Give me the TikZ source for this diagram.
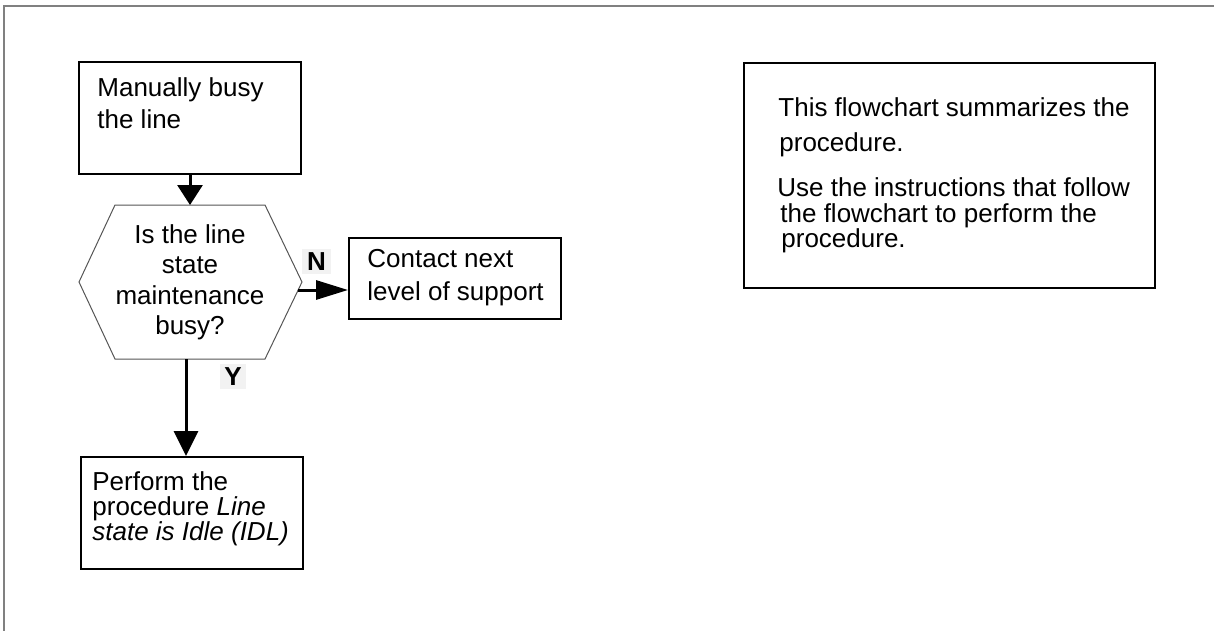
\documentclass[tikz,border=0pt]{standalone}
\usepackage{fontspec}
\setmainfont{Liberation Sans}
\usetikzlibrary{arrows.meta}
\definecolor{labelbg}{HTML}{F2F2F2}
\definecolor{hexline}{HTML}{555555}
\tikzset{
  box/.style={draw=black, line width=1pt, fill=white, inner sep=0pt},
  txt/.style={inner sep=0pt, font=\fontsize{13}{15}\selectfont},
  yn/.style={fill=labelbg, inner sep=0pt, font=\fontsize{13}{15}\selectfont\bfseries},
  conn/.style={line width=1.5pt},
}
\begin{document}
\begin{tikzpicture}[x=0.5pt, y=-0.5pt]
\useasboundingbox (0,0) rectangle (1214,631);

% page frame (top and left rules)
\draw[gray, line width=1pt] (4,631) -- (4,6.5) -- (1214,6.5);

% process boxes
\node[box, minimum width=111pt, minimum height=56pt] (busy) at (190,118) {};
\node[box, minimum width=106pt, minimum height=40.5pt] (contact) at (455,278.5) {};
\node[box, minimum width=111pt, minimum height=56pt] (perform) at (192,513) {};
\node[box, minimum width=205.5pt, minimum height=112.5pt] (note) at (949.5,175.5) {};

% decision hexagon
\coordinate (qtop) at (190,205);
\coordinate (qbot) at (190,359);
\draw[hexline, line width=0.5pt]
  (115,205) -- (265,205) -- (302,282) -- (265,359) -- (115,359) -- (79,282) -- cycle;
\coordinate (nstart) at (298,290);
\coordinate (ystart) at (186,359);

% box texts
\node[txt, anchor=base west] (b1a) at (97,97) {Manually busy};
\node[txt, anchor=base west] (b1b) at (97,128) {the line};

\node[txt, anchor=base] (q1) at (190,243) {Is the line};
\node[txt, anchor=base] (q2) at (190,273.5) {state};
\node[txt, anchor=base] (q3) at (190,304) {maintenance};
\node[txt, anchor=base] (q4) at (190,334.5) {busy?};

\node[txt, anchor=base west] (c1) at (367,267) {Contact next};
\node[txt, anchor=base west] (c2) at (367,300) {level of support};

\node[txt, anchor=base west] (p1) at (92,490) {Perform the};
\node[txt, anchor=base west] (p2) at (92,515) {procedure \textit{Line}};
\node[txt, anchor=base west] (p3) at (92,540) {\textit{state is Idle (IDL)}};

\node[txt, anchor=base west] (n1) at (778,117) {This flowchart summarizes the};
\node[txt, anchor=base west] (n2) at (779,151) {procedure.};
\node[txt, anchor=base west] (n3) at (777,196) {Use the instructions that follow};
\node[txt, anchor=base west] (n4) at (780,222) {the flowchart to perform the};
\node[txt, anchor=base west] (n5) at (781,247) {procedure.};

% branch labels
\node[yn, minimum width=14.5pt, minimum height=12.5pt] (nlab) at (316.5,261.5) {N};
\node[yn, minimum width=13pt, minimum height=12.5pt] (ylab) at (233,376.5) {Y};

% connectors
\draw[conn, -{Triangle[length=10pt, width=12.5pt]}] (busy.south) -- (qtop);
\draw[conn, -{Triangle[length=16pt, width=9.5pt]}] (nstart) -- (contact.west |- nstart);
\draw[conn, -{Triangle[length=12.5pt, width=12pt]}] (ystart) -- (ystart |- perform.north);
\end{tikzpicture}
\end{document}
